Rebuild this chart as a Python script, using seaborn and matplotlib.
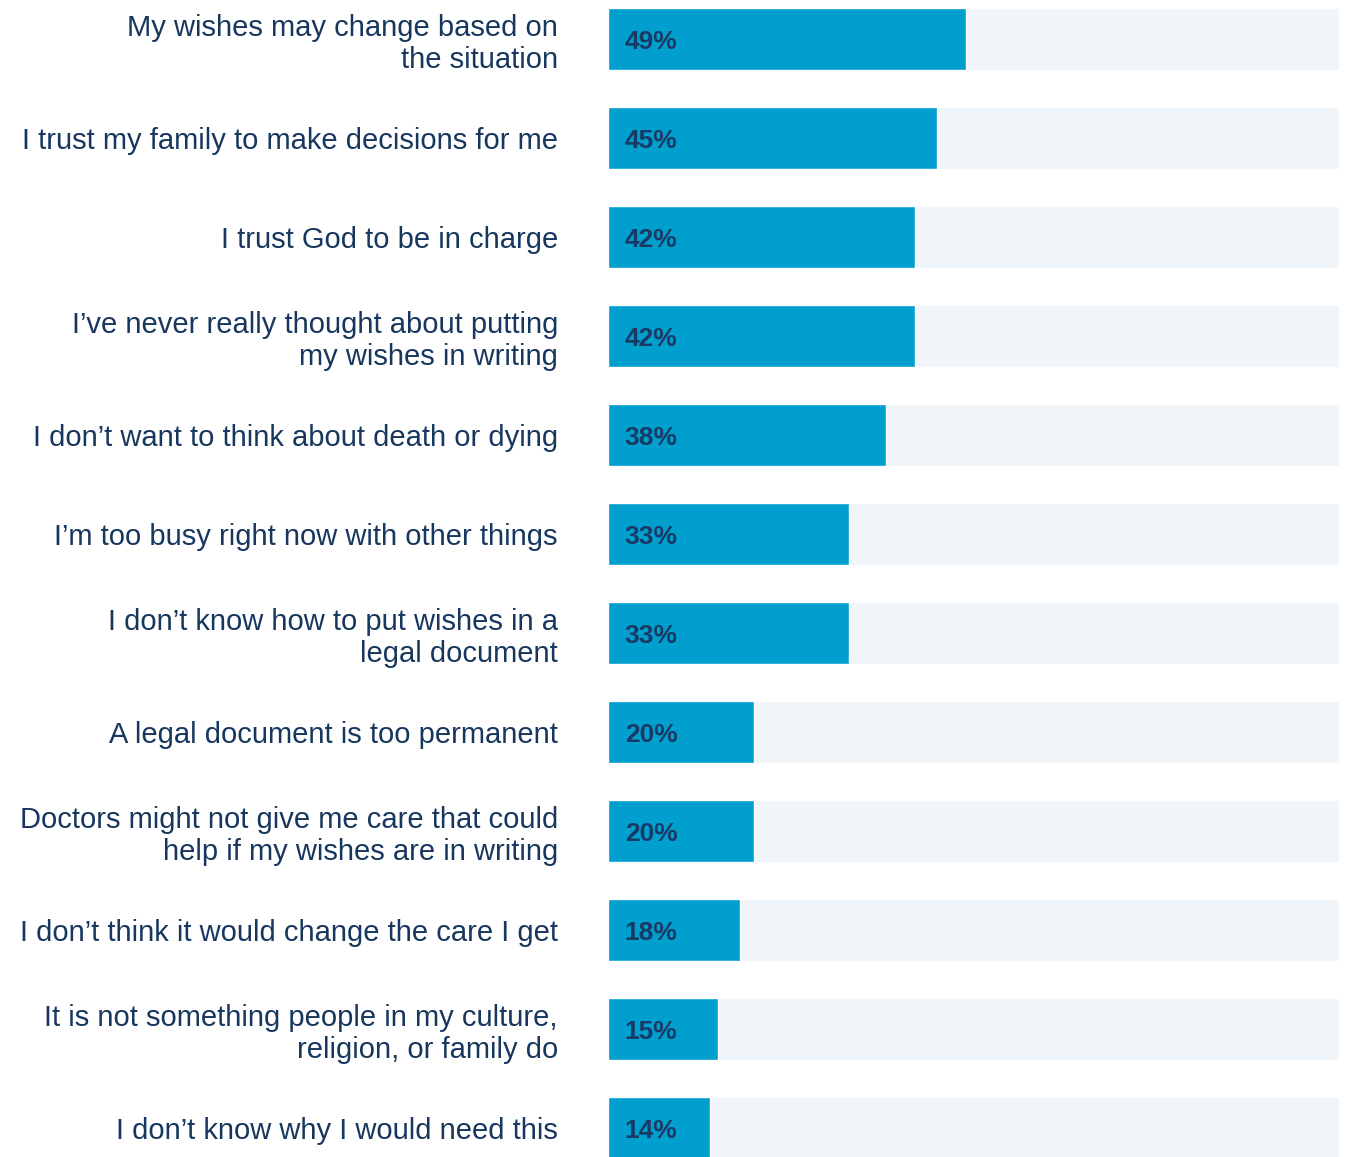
import matplotlib
matplotlib.use("Agg")
import matplotlib.pyplot as plt
import seaborn as sns
import pandas as pd

# Reasons for not putting end-of-life wishes in writing
reasons = [
    "My wishes may change based on\nthe situation",
    "I trust my family to make decisions for me",
    "I trust God to be in charge",
    "I\u2019ve never really thought about putting\nmy wishes in writing",
    "I don\u2019t want to think about death or dying",
    "I\u2019m too busy right now with other things",
    "I don\u2019t know how to put wishes in a\nlegal document",
    "A legal document is too permanent",
    "Doctors might not give me care that could\nhelp if my wishes are in writing",
    "I don\u2019t think it would change the care I get",
    "It is not something people in my culture,\nreligion, or family do",
    "I don\u2019t know why I would need this",
]
shares = [49, 45, 42, 42, 38, 33, 33, 20, 20, 18, 15, 14]
full_scale = [100] * len(reasons)

BAR_BLUE = "#009FCE"
TRACK = "#EFF5F9"
NAVY = "#17375E"

df = pd.DataFrame({"reason": reasons, "share": shares, "total": full_scale})

sns.set_theme(style="white")
plt.rcParams["font.family"] = ["Liberation Sans", "DejaVu Sans"]

W, H = 1349, 1157
fig = plt.figure(figsize=(W / 100, H / 100), dpi=100)
bar_h = 0.626
pitch = 99
n = len(reasons)
ax_h_px = (n - 1 + bar_h) * pitch
top_px = 8
ax = fig.add_axes([608 / W, (H - top_px - ax_h_px) / H, 731 / W, ax_h_px / H])

sns.barplot(data=df, x="total", y="reason", orient="h", color=TRACK,
            width=bar_h, saturation=1, ax=ax)
sns.barplot(data=df, x="share", y="reason", orient="h", color=BAR_BLUE,
            width=bar_h, saturation=1, ax=ax)

for i, v in enumerate(shares):
    ax.text(2.3, i + 0.03, f"{v}%", ha="left", va="center", fontsize=19,
            fontweight="bold", color="#183A64")

ax.set_xlim(0, 100)
ax.set_ylim(n - 1 + bar_h / 2, -bar_h / 2)
ax.set_xlabel("")
ax.set_ylabel("")
ax.set_xticks([])
ax.tick_params(axis="y", length=0, pad=36)
for lbl in ax.get_yticklabels():
    lbl.set_fontsize(21)
    lbl.set_color(NAVY)
    lbl.set_horizontalalignment("right")
    lbl.set_linespacing(1.18)
for s in ax.spines.values():
    s.set_visible(False)

fig.savefig("out.png", dpi=100, facecolor="white")
